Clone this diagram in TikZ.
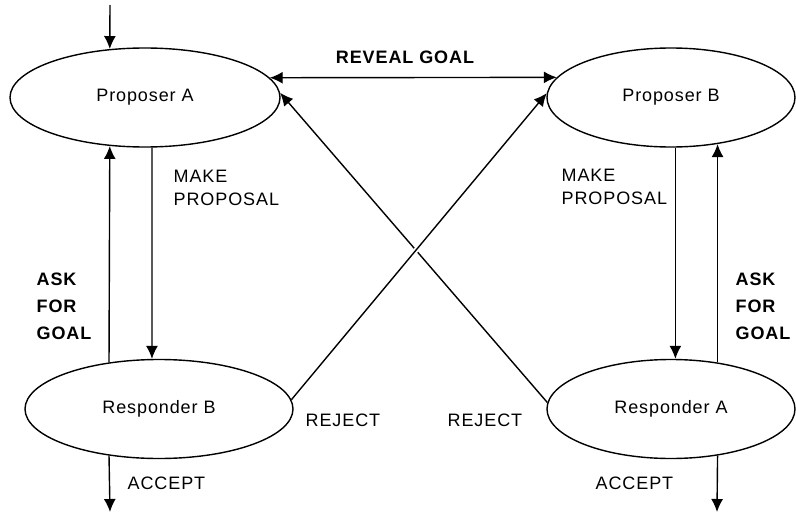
\documentclass[tikz,border=0pt]{standalone}
\usepackage{fontspec}
\setmainfont[LetterSpace=5]{Liberation Sans}
\usetikzlibrary{shapes.geometric}
\usetikzlibrary{arrows.meta}

\begin{document}
\begin{tikzpicture}[x=1pt, y=-1pt, line width=1.4pt, >={Latex[length=13pt,width=12pt]}]

  \tikzstyle{agent} = [draw, ellipse, minimum height=99pt, inner sep=0pt,
  font=\fontsize{18}{22}\selectfont]

  \tikzstyle{labeltext} = [inner sep=0pt, align=left, anchor=west,
  font=\fontsize{18}{23}\selectfont] % plain action labels
  \tikzstyle{boldtext} = [inner sep=0pt, align=left, anchor=west,
  font=\fontsize{18}{27}\selectfont\bfseries]

\useasboundingbox (0,0) rectangle (796,514);

\node[agent, minimum width=270pt] (propA) at (145,97.5) {Proposer A};
\node[agent, minimum width=248pt] (propB) at (671,97.5) {Proposer B};
\node[agent, minimum width=268pt] (respB) at (159,409) {Responder B};
\node[agent, minimum width=248pt] (respA) at (671,409) {Responder A};

\coordinate (start) at (110,5);
\coordinate (acceptB) at (110,512);
\coordinate (acceptA) at (717,512);

% left side
\draw[->] (start) -- (propA.126);
\draw[->] (respB.137) -- (propA.234);
\draw[->] (propA.278) -- (respB.98);
\draw[->] (respB.223) -- (acceptB);

% right side
\draw[->] (propB.275) -- (respA.85);
\draw[->] (respA.45) -- (propB.315);
\draw[->] (respA.315) -- (acceptA);

% the crossing reject lines, second one bridges over the first
\draw[->] (respA.177) -- (propA.2);
\draw[->, preaction={draw, white, line width=5pt, -, shorten <=60pt, shorten >=60pt}]
  (respB.4) -- (propB.178);

\draw[<->] (propA.9) -- (propB.170);

\node[boldtext, anchor=center] (reveal) at (405,57) {REVEAL GOAL};

\node[labeltext] (makeA) at (173,188) {MAKE\\PROPOSAL};
\node[labeltext] (makeB) at (561,186.5) {MAKE\\PROPOSAL};

\node[boldtext] (askB) at (36,306.5) {ASK\\FOR\\GOAL};
\node[boldtext] (askA) at (735,306.5) {ASK\\FOR\\GOAL};

\node[labeltext] (rejectB) at (305,420) {REJECT};
\node[labeltext] (rejectA) at (447,420) {REJECT};

\node[labeltext] (acceptlabB) at (127,483) {ACCEPT};
\node[labeltext] (acceptlabA) at (595,483) {ACCEPT};

\end{tikzpicture}
\end{document}
